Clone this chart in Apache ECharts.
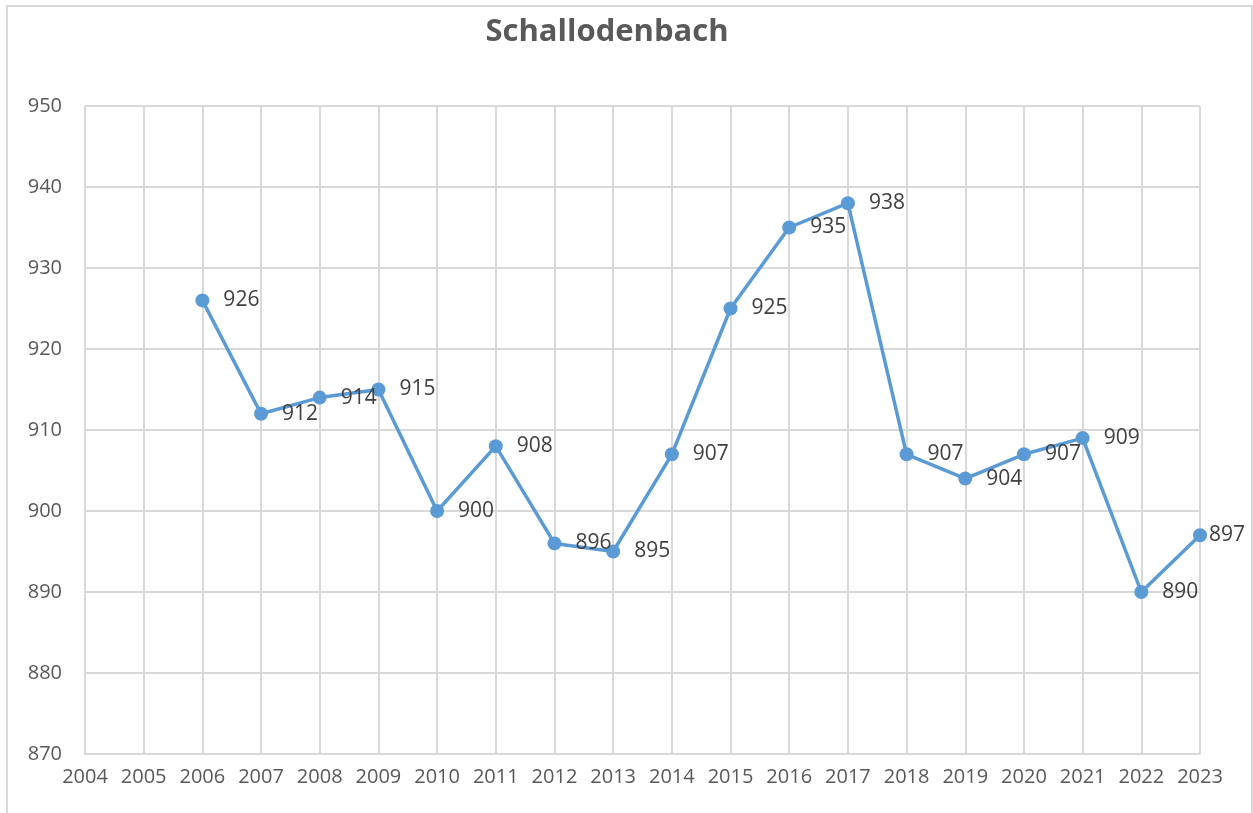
<!DOCTYPE html>
<html lang="de">
<head>
    <meta charset="UTF-8">
    <title>Schallodenbach</title>
    <script src="https://cdn.jsdelivr.net/npm/echarts@6/dist/echarts.min.js"></script>
    <style>
        html, body { margin: 0; padding: 0; background: #fff; }
        #chart { width: 1253px; height: 813px; }
    </style>
</head>
<body>
    <div id="chart"></div>
    <script>
        // Einwohner je Jahr
        const years = [2006, 2007, 2008, 2009, 2010, 2011, 2012, 2013, 2014, 2015,
                       2016, 2017, 2018, 2019, 2020, 2021, 2022, 2023];
        const population = [926, 912, 914, 915, 900, 908, 896, 895, 907, 925,
                            935, 938, 907, 904, 907, 909, 890, 897];

        const chart = echarts.init(document.getElementById('chart'));

        const font = '"Open Sans", "Noto Sans", sans-serif';

        // letzter Punkt: Beschriftung direkt am Marker
        const points = years.map((y, i) => {
            const item = { value: [y, population[i]] };
            if (i === years.length - 1) item.label = { distance: 2 };
            return item;
        });

        chart.setOption({
            animation: false,
            textStyle: { fontFamily: font },
            graphic: [{
                type: 'rect',
                shape: { x: 7, y: 6, width: 1245, height: 820 },
                style: { fill: 'none', stroke: '#d9d9d9', lineWidth: 2 },
                silent: true
            }],
            title: {
                text: 'Schallodenbach',
                left: 602,
                top: 12,
                textAlign: 'center',
                textStyle: { fontFamily: font, fontSize: 31, fontWeight: 'bold', color: '#595959' }
            },
            grid: { left: 85, right: 53, top: 106, bottom: 59 },
            xAxis: {
                type: 'value',
                min: 2004,
                max: 2023,
                interval: 1,
                axisLine: { show: true, lineStyle: { color: '#d9d9d9', width: 2 } },
                axisTick: { show: false },
                splitLine: { show: true, lineStyle: { color: '#d9d9d9', width: 2 } },
                axisLabel: { color: '#595959', fontSize: 20, margin: 13, formatter: v => String(v) }
            },
            yAxis: {
                type: 'value',
                min: 870,
                max: 950,
                interval: 10,
                axisLine: { show: false },
                axisTick: { show: false },
                splitLine: { show: true, lineStyle: { color: '#d9d9d9', width: 2 } },
                axisLabel: { color: '#595959', fontSize: 20, margin: 23 }
            },
            series: [{
                type: 'line',
                data: points,
                symbol: 'circle',
                symbolSize: 14,
                lineStyle: { color: '#5b9bd5', width: 3.5 },
                itemStyle: { color: '#5b9bd5' },
                label: {
                    show: true,
                    position: 'right',
                    distance: 14,
                    color: '#404040',
                    fontSize: 21,
                    formatter: p => p.value[1]
                }
            }]
        });
    </script>
</body>
</html>
